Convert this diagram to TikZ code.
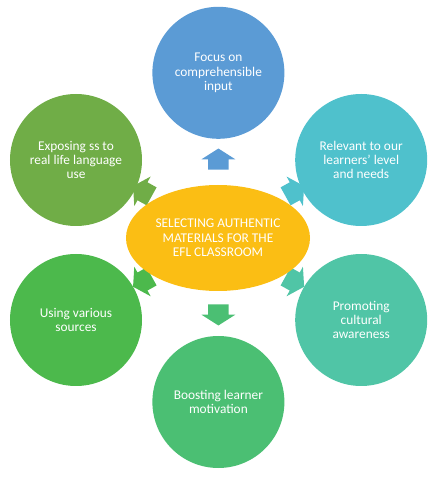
\documentclass[tikz,border=0pt]{standalone}
\usepackage{fontspec}
\setmainfont{Carlito}
\usetikzlibrary{shapes.geometric,shapes.arrows}
\definecolor{FocusBlue}{RGB}{91,155,213}
\definecolor{RelevantCyan}{RGB}{79,193,204}
\definecolor{CultureTeal}{RGB}{80,197,166}
\definecolor{MotivGreen}{RGB}{75,191,115}
\definecolor{SourceGreen}{RGB}{76,185,76}
\definecolor{ExposeGreen}{RGB}{112,173,71}
\definecolor{CoreYellow}{RGB}{251,190,20}
\tikzset{
  topic/.style={circle,draw=none,minimum size=3.3cm,inner sep=0pt,
    text=white,align=center,font=\fontsize{9.5}{10.2}\selectfont},
  core/.style={ellipse,fill=CoreYellow,minimum width=4.6cm,minimum height=2.65cm,
    inner sep=0pt,text=white,align=center,font=\fontsize{9.5}{10.2}\selectfont},
  blockarrow/.style={single arrow,draw=none,minimum height=0.53cm,
    inner xsep=0pt,inner ysep=0.25cm,single arrow head extend=0.165cm,
    single arrow tip angle=115}
}
\begin{document}
\begin{tikzpicture}
  \useasboundingbox (0,0) rectangle (10.925,12);
  % arrows sit behind the circles
  \node[blockarrow,fill=FocusBlue,rotate=90] (aup) at (5.46,7.94) {};
  \node[blockarrow,fill=MotivGreen,rotate=-90] (adown) at (5.46,4.21) {};
  \node[blockarrow,fill=ExposeGreen,rotate=151] (aul) at (3.63,7.18) {};
  \node[blockarrow,fill=RelevantCyan,rotate=29] (aur) at (7.30,7.18) {};
  \node[blockarrow,fill=SourceGreen,rotate=209] (all) at (3.63,5.00) {};
  \node[blockarrow,fill=CultureTeal,rotate=-29] (alr) at (7.30,5.00) {};
  % topics
  \node[topic,fill=FocusBlue] (focus) at (5.46,10.18) {Focus on\\comprehensible\\input};
  \node[topic,fill=RelevantCyan] (relevant) at (9.03,8.0) {Relevant to our\\learners' level\\and needs};
  \node[topic,fill=CultureTeal] (culture) at (9.03,4.0) {Promoting\\cultural\\awareness};
  \node[topic,fill=MotivGreen] (motiv) at (5.46,1.95) {Boosting learner\\motivation};
  \node[topic,fill=SourceGreen] (sources) at (1.90,4.0) {Using various\\sources};
  \node[topic,fill=ExposeGreen] (expose) at (1.90,8.0) {Exposing ss to\\real life language\\use};
  % centre
  \node[core] (centre) at (5.45,6.05) {SELECTING AUTHENTIC\\MATERIALS FOR THE\\EFL CLASSROOM};
\end{tikzpicture}
\end{document}
